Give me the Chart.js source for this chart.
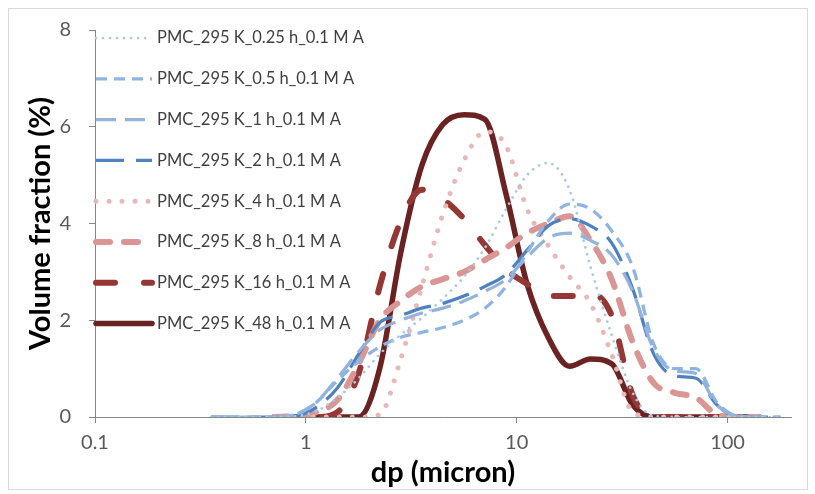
<!DOCTYPE html>
<html>
<head>
<meta charset="utf-8">
<script src="https://cdn.jsdelivr.net/npm/chart.js@4/dist/chart.umd.min.js"></script>
<style>
  html, body { margin: 0; padding: 0; background: #fff; }
  #wrap { position: relative; width: 815px; height: 494px; }
  #frame { position: absolute; left: 8px; top: 8px; width: 798px; height: 480px; border: 1px solid #d9d9d9; pointer-events: none; }
</style>
</head>
<body>
<div id="wrap">
  <canvas id="psd" width="815" height="494"></canvas>
  <div id="frame"></div>
</div>
<script>
// particle diameter bins (micron)
const dp = [0.355, 0.447, 0.562, 0.708, 0.891, 1.12, 1.41, 1.78, 2.24, 2.82, 3.55, 4.47, 5.62, 7.08,
  8.91, 11.2, 14.1, 17.8, 22.4, 28.2, 35.5, 44.7, 56.2, 70.8, 89.1, 112, 141, 178];

const seriesNames = ["PMC_295 K_0.25 h_0.1 M A", "PMC_295 K_0.5 h_0.1 M A", "PMC_295 K_1 h_0.1 M A",
  "PMC_295 K_2 h_0.1 M A", "PMC_295 K_4 h_0.1 M A", "PMC_295 K_8 h_0.1 M A",
  "PMC_295 K_16 h_0.1 M A", "PMC_295 K_48 h_0.1 M A"];

// volume fraction (%) per bin
const h0_25 = [0, 0, 0, 0, 0.02, 0.12, 0.4, 0.8, 1.3, 1.7, 2.05, 2.45, 2.9, 3.5, 4.3, 5.0, 5.25, 4.7, 3.1, 1.7, 0.5, 0.02, 0, 0, 0, 0, 0, 0];
const h0_5 = [0, 0, 0, 0, 0.05, 0.3, 0.75, 1.15, 1.45, 1.65, 1.75, 1.85, 2.0, 2.25, 2.7, 3.4, 4.05, 4.4, 4.3, 3.85, 3.1, 1.5, 1.0, 1.0, 0.3, 0.02, 0, 0];
const h1 = [0, 0, 0, 0, 0.05, 0.3, 0.8, 1.35, 1.8, 2.0, 2.15, 2.25, 2.4, 2.6, 2.85, 3.3, 3.7, 3.8, 3.65, 3.35, 2.6, 1.4, 0.95, 0.9, 0.25, 0.02, 0, 0];
const h2 = [0, 0, 0, 0, 0.02, 0.2, 0.6, 1.3, 1.95, 2.1, 2.25, 2.35, 2.5, 2.7, 2.95, 3.45, 3.95, 4.1, 3.95, 3.6, 2.65, 1.3, 0.85, 0.8, 0.25, 0, 0, 0];
const h4 = [null, null, null, 0, 0, 0, 0, 0, 0.05, 1.2, 2.7, 4.2, 5.3, 5.9, 5.6, 4.3, 3.55, 2.9, 2.35, 1.3, 0.1, 0, 0, 0, 0, 0, 0, null];
const h8 = [null, null, null, 0, 0.02, 0.1, 0.35, 1.1, 2.0, 2.4, 2.7, 2.85, 3.0, 3.25, 3.5, 3.8, 4.0, 4.15, 3.65, 2.85, 1.55, 0.7, 0.5, 0.4, 0.05, 0, 0, null];
const h16 = [null, null, null, 0, 0, 0, 0.1, 0.9, 2.7, 4.05, 4.7, 4.5, 4.1, 3.55, 3.05, 2.75, 2.5, 2.5, 2.55, 2.1, 0.45, 0, 0, 0, 0, 0, 0, null];
const h48 = [null, null, null, 0, 0, 0, 0, 0, 1.0, 3.4, 5.2, 6.05, 6.25, 6.15, 4.6, 2.75, 1.65, 1.05, 1.2, 1.1, 0.25, 0, 0, 0, 0, 0, 0, null];

const xTicks = [0.1, 1, 10, 100];

const styles = [
  { color: "#a9c8e4", width: 2.75, dash: [0.01, 7], cap: "round" },
  { color: "#8eb4e3", width: 3.25, dash: [11, 7], cap: "butt" },
  { color: "#95b3d7", width: 3.25, dash: [20, 9], cap: "butt" },
  { color: "#4f81bd", width: 3.25, dash: [28, 12], cap: "butt" },
  { color: "#e6b9b8", width: 5, dash: [0.01, 13], cap: "round" },
  { color: "#d99694", width: 6, dash: [14, 14], cap: "round" },
  { color: "#953735", width: 6, dash: [19, 29], cap: "round" },
  { color: "#6b2222", width: 5.5, dash: [], cap: "round" }
];

const allSeries = [h0_25, h0_5, h1, h2, h4, h8, h16, h48];

const datasets = allSeries.map((vals, i) => ({
  label: seriesNames[i],
  data: dp.map((x, j) => ({ x: x, y: vals[j] })),
  borderColor: styles[i].color,
  borderWidth: styles[i].width,
  borderDash: styles[i].dash,
  borderCapStyle: styles[i].cap,
  borderJoinStyle: "round",
  pointRadius: 0,
  fill: false,
  cubicInterpolationMode: "monotone"
}));

// legend drawn inside the plot, top-left, one row per series
const insideLegend = {
  id: "insideLegend",
  afterDatasetsDraw(chart) {
    const ctx = chart.ctx;
    const left = chart.chartArea.left;
    ctx.save();
    chart.data.datasets.forEach((ds, i) => {
      const y = 38 + i * 40.8;
      ctx.beginPath();
      ctx.strokeStyle = ds.borderColor;
      ctx.lineWidth = ds.borderWidth;
      ctx.lineCap = ds.borderCapStyle;
      ctx.setLineDash(ds.borderDash);
      ctx.moveTo(left + 1, y);
      ctx.lineTo(left + 57, y);
      ctx.stroke();
      ctx.setLineDash([]);
      ctx.fillStyle = "#404040";
      ctx.font = "16.5px Lato";
      ctx.textBaseline = "middle";
      ctx.fillText(ds.label, left + 62, y);
    });
    ctx.restore();
  }
};

new Chart(document.getElementById("psd"), {
  type: "line",
  data: { datasets: datasets },
  plugins: [insideLegend],
  options: {
    responsive: false,
    animation: false,
    layout: { padding: { left: 0, right: 24, top: 21, bottom: 0 } },
    plugins: { legend: { display: false }, tooltip: { enabled: false } },
    scales: {
      x: {
        type: "logarithmic",
        min: 0.1,
        max: 200,
        afterBuildTicks: (s) => { s.ticks = xTicks.map((v) => ({ value: v })); },
        afterFit: (s) => { s.height = 77; },
        ticks: {
          callback: (v) => String(v),
          color: "#595959",
          font: { family: "Lato", size: 20 },
          padding: 8,
          maxRotation: 0,
          autoSkip: false
        },
        grid: { drawOnChartArea: false, tickLength: 6, color: "#868686" },
        border: { color: "#868686" },
        title: {
          display: true,
          text: "dp (micron)",
          color: "#000",
          font: { family: "Lato", size: 29, weight: "bold" },
          padding: { top: 0, bottom: 4 }
        }
      },
      y: {
        min: 0,
        max: 8,
        afterFit: (s) => { s.width = 95; },
        ticks: {
          stepSize: 2,
          color: "#595959",
          font: { family: "Lato", size: 20 },
          padding: 18
        },
        grid: { drawOnChartArea: false, tickLength: 6, color: "#868686" },
        border: { color: "#868686" },
        title: {
          display: true,
          text: "Volume fraction (%)",
          color: "#000",
          font: { family: "Lato", size: 29, weight: "bold" },
          padding: { top: 23, bottom: 0 }
        }
      }
    }
  }
});
</script>
</body>
</html>
